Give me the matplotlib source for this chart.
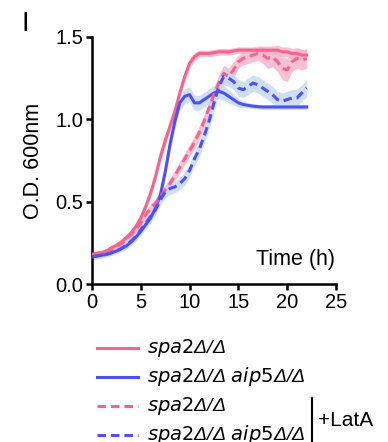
import matplotlib
matplotlib.use("Agg")
import matplotlib.pyplot as plt
import numpy as np

plt.rcParams['font.family'] = ['Liberation Sans', 'DejaVu Sans']

# Time (h)
time = [0, 0.5, 1, 1.5, 2, 2.5, 3, 3.5, 4, 4.5, 5, 5.5, 6, 6.5, 7, 7.5, 8, 8.5, 9, 9.5,
        10, 10.5, 11, 11.5, 12, 12.5, 13, 13.5, 14, 14.5, 15, 15.5, 16, 16.5, 17, 17.5,
        18, 18.5, 19, 19.5, 20, 20.5, 21, 21.5, 22]

spa2 = [0.18, 0.185, 0.19, 0.20, 0.22, 0.235, 0.255, 0.28, 0.31, 0.35, 0.40, 0.47, 0.55, 0.65, 0.77, 0.87,
        0.96, 1.05, 1.16, 1.26, 1.34, 1.38, 1.40, 1.40, 1.40, 1.405, 1.41, 1.41, 1.41, 1.415, 1.42, 1.42,
        1.42, 1.42, 1.42, 1.42, 1.42, 1.42, 1.42, 1.41, 1.41, 1.40, 1.40, 1.39, 1.39]
spa2_err = [0.015, 0.015, 0.015, 0.015, 0.015, 0.015, 0.015, 0.015, 0.02, 0.02, 0.02, 0.02, 0.025, 0.025, 0.03, 0.03,
            0.03, 0.03, 0.03, 0.03, 0.03, 0.025, 0.02, 0.02, 0.02, 0.02, 0.02, 0.02, 0.02, 0.02, 0.02, 0.02,
            0.02, 0.02, 0.025, 0.025, 0.025, 0.025, 0.03, 0.03, 0.03, 0.03, 0.035, 0.035, 0.035]

spa2_aip5 = [0.165, 0.17, 0.175, 0.18, 0.19, 0.20, 0.215, 0.23, 0.255, 0.285, 0.32, 0.36, 0.40, 0.46, 0.54, 0.68,
             0.85, 0.99, 1.10, 1.14, 1.15, 1.10, 1.10, 1.12, 1.14, 1.16, 1.17, 1.16, 1.14, 1.12, 1.10, 1.09,
             1.085, 1.08, 1.077, 1.075, 1.075, 1.075, 1.075, 1.075, 1.075, 1.075, 1.075, 1.075, 1.075]
spa2_aip5_err = [0.015, 0.015, 0.015, 0.015, 0.015, 0.015, 0.015, 0.02, 0.02, 0.02, 0.025, 0.025, 0.03, 0.03, 0.035, 0.04,
                 0.045, 0.045, 0.045, 0.045, 0.045, 0.045, 0.045, 0.045, 0.045, 0.045, 0.045, 0.045, 0.04, 0.035, 0.025, 0.02,
                 0.015, 0.015, 0.015, 0.015, 0.015, 0.015, 0.015, 0.015, 0.015, 0.015, 0.015, 0.015, 0.015]

spa2_lat = [0.18, 0.185, 0.19, 0.20, 0.21, 0.225, 0.245, 0.27, 0.30, 0.33, 0.37, 0.42, 0.46, 0.49, 0.53, 0.57,
            0.61, 0.66, 0.71, 0.76, 0.81, 0.86, 0.92, 0.99, 1.07, 1.15, 1.22, 1.28, 1.26, 1.30, 1.35, 1.37,
            1.38, 1.39, 1.40, 1.39, 1.37, 1.38, 1.35, 1.31, 1.30, 1.35, 1.37, 1.36, 1.37]
spa2_lat_err = [0.015, 0.015, 0.015, 0.015, 0.015, 0.015, 0.015, 0.02, 0.02, 0.02, 0.02, 0.025, 0.025, 0.03, 0.03, 0.03,
                0.03, 0.03, 0.035, 0.035, 0.035, 0.04, 0.04, 0.04, 0.04, 0.045, 0.05, 0.05, 0.05, 0.05, 0.04, 0.04,
                0.04, 0.04, 0.04, 0.05, 0.06, 0.06, 0.06, 0.07, 0.07, 0.06, 0.06, 0.06, 0.06]

spa2_aip5_lat = [0.165, 0.17, 0.175, 0.18, 0.19, 0.20, 0.215, 0.235, 0.26, 0.29, 0.33, 0.37, 0.41, 0.45, 0.51, 0.56,
                 0.58, 0.59, 0.61, 0.64, 0.69, 0.76, 0.82, 0.90, 0.99, 1.10, 1.20, 1.26, 1.25, 1.23, 1.19, 1.18,
                 1.20, 1.22, 1.21, 1.19, 1.17, 1.15, 1.12, 1.11, 1.12, 1.13, 1.13, 1.16, 1.19]
spa2_aip5_lat_err = [0.015, 0.015, 0.015, 0.015, 0.015, 0.015, 0.015, 0.02, 0.02, 0.02, 0.025, 0.025, 0.03, 0.03, 0.03, 0.035,
                     0.035, 0.035, 0.035, 0.04, 0.04, 0.04, 0.045, 0.045, 0.05, 0.05, 0.05, 0.05, 0.05, 0.05, 0.05, 0.05,
                     0.05, 0.05, 0.05, 0.05, 0.05, 0.05, 0.05, 0.05, 0.05, 0.05, 0.05, 0.05, 0.05]

labels = ["$\\it{spa2}$Δ/Δ", "$\\it{spa2}$Δ/Δ $\\it{aip5}$Δ/Δ"]

PINK = "#F5648C"
BLUE = "#5050F0"
PINK_BAND = "#F8B4CC"
BLUE_BAND = "#C4DAF4"
DASH = (0, (2.8, 1.6))

fig = plt.figure(figsize=(3.88, 4.42), dpi=100)
ax = fig.add_axes([92/388, 1-284/442, (336-92)/388, (284-37)/442])

t = np.array(time)
series = [
    (spa2, spa2_err, PINK, PINK_BAND, '-'),
    (spa2_aip5, spa2_aip5_err, BLUE, BLUE_BAND, '-'),
    (spa2_lat, spa2_lat_err, PINK, PINK_BAND, DASH),
    (spa2_aip5_lat, spa2_aip5_lat_err, BLUE, BLUE_BAND, DASH),
]
for y, e, c, bc, ls in series:
    y = np.array(y); e = np.array(e)
    ax.fill_between(t, y - e, y + e, color=bc, lw=0, alpha=0.85, zorder=1)
for y, e, c, bc, ls in series:
    ax.plot(t, y, color=c, lw=2.2, ls=ls, zorder=3)

ax.set_xlim(0, 25)
ax.set_ylim(0, 1.5)
ax.set_xticks([0, 5, 10, 15, 20, 25])
ax.set_yticks([0, 0.5, 1.0, 1.5])
ax.set_yticklabels(["0.0", "0.5", "1.0", "1.5"])
for s in ['top', 'right']:
    ax.spines[s].set_visible(False)
for s in ['left', 'bottom']:
    ax.spines[s].set_linewidth(1.8)
ax.tick_params(width=1.8, length=4.5, labelsize=14.5, pad=2)
ax.set_ylabel("O.D. 600nm", fontsize=15.5, labelpad=8)
ax.text(24.9, 0.146, "Time (h)", ha='right', va='center', fontsize=15.5)

fig.text(22/388, 1-24/442, "I", fontsize=20, ha='left', va='center')

# Legend
rows = [348, 377, 406, 435]
styles = ['-', '-', DASH, DASH]
cols = [PINK, BLUE, PINK, BLUE]
txts = [labels[0], labels[1], labels[0], labels[1]]
for r, st, c, tx in zip(rows, styles, cols, txts):
    yy = 1 - r/442
    fig.add_artist(plt.Line2D([97/388, 138/388], [yy, yy], color=c, lw=2.2, ls=st))
    fig.text(147/388, yy, tx, fontsize=14, ha='left', va='center', style='italic')
fig.add_artist(plt.Line2D([311.5/388, 311.5/388], [1-398/442, 1-442/442], color='black', lw=1.5))
fig.text(318/388, 1-420/442, "+LatA", fontsize=15, ha='left', va='center')

fig.savefig("out.png", dpi=100)
